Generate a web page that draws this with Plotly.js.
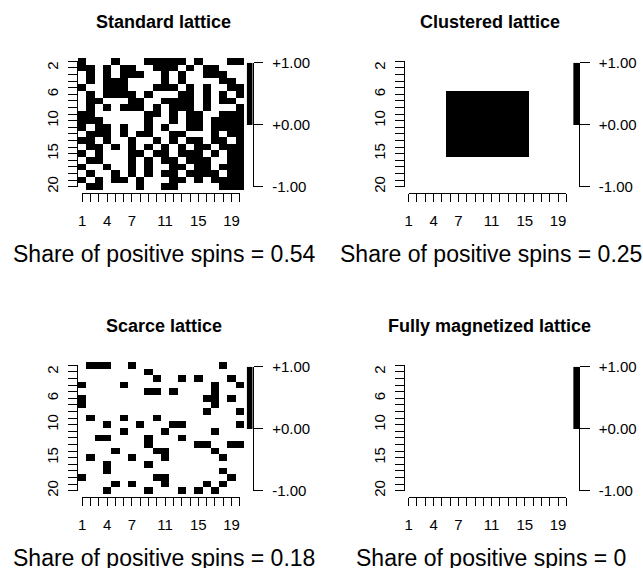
<!DOCTYPE html>
<html>
<head>
<meta charset="utf-8">
<script src="https://cdn.plot.ly/plotly-3.0.1.min.js"></script>
<style>
  html, body { margin: 0; padding: 0; background: #ffffff; }
  #chart { width: 643px; height: 568px; }
</style>
</head>
<body>
<div id="chart"></div>
<script>
// Spin lattices, one string per row (row 1 first); '#' = +1 spin, '.' = -1 spin
const standardLattice = [
  "#...#...#####.#...##",
  "##.#.##..###.#.##...",
  ".#.#.###..#.#..###..",
  ".#.###....#.#....##.",
  "#..###...###.#.#..##",
  ".#.####.#...##.#.#.#",
  ".##...##..####.#.##.",
  ".#.#.###.#.###.#...#",
  "##......##.#.##..###",
  "###.....#..#.##.####",
  "#.##.#..#.#..##.####",
  ".###.#.##..##...#.##",
  "##.#..#..#.#.##.##.#",
  ".##.#.#.#.#.#.##.###",
  "#.#...##.##.###.#.##",
  ".##...#.#.##.###..##",
  "#..#..#.#..##.##.###",
  ".#..#.#.#.##.####.##",
  "#.#.##.#...##.#.####",
  ".##....#..##.....###"
];
const clusteredLattice = [
  "....................",
  "....................",
  "....................",
  "....................",
  "....................",
  ".....##########.....",
  ".....##########.....",
  ".....##########.....",
  ".....##########.....",
  ".....##########.....",
  ".....##########.....",
  ".....##########.....",
  ".....##########.....",
  ".....##########.....",
  ".....##########.....",
  "....................",
  "....................",
  "....................",
  "....................",
  "...................."
];
const scarceLattice = [
  ".###..#..........#..",
  "........#...........",
  ".........#..#.#...#.",
  "#....#..........#..#",
  "........##.#....#...",
  "#..............##.#.",
  "#...............#...",
  "...............#...#",
  ".#...#...#..........",
  "...#...#...##......#",
  ".....#....#.....#...",
  "..##....#...#.......",
  "........#.....##..##",
  "....#....##.....#...",
  ".#....#...#......#..",
  "...#....#...........",
  "...#.............#..",
  "#........##.......#.",
  "....#.#...#....#.#..",
  "...#....#...#.#.#..."
];
const magnetizedLattice = [
  "....................",
  "....................",
  "....................",
  "....................",
  "....................",
  "....................",
  "....................",
  "....................",
  "....................",
  "....................",
  "....................",
  "....................",
  "....................",
  "....................",
  "....................",
  "....................",
  "....................",
  "....................",
  "....................",
  "...................."
];

const panelTitles = ["Standard lattice", "Clustered lattice", "Scarce lattice", "Fully magnetized lattice"];
const panelLattices = [standardLattice, clusteredLattice, scarceLattice, magnetizedLattice];

// axis labelling
const colLabels = [1, 4, 7, 11, 15, 19];
const rowLabels = [2, 6, 10, 15, 20];
const scaleTicks = [-1, 0, 1];
const scaleTickText = ["-1.00", "+0.00", "+1.00"];

// ---- geometry helpers (pixel -> paper fraction) ----
const W = 643, H = 568;
const fx = x => x / W;
const fy = y => 1 - y / H;
const FONT = "Liberation Sans, Arial, sans-serif";
const spinScale = [[0, "#ffffff"], [0.5, "#ffffff"], [0.5, "#000000"], [1, "#000000"]];

const toSpins = rows => rows.map(r => r.split("").map(c => (c === "#" ? 1 : -1)));
const idx = Array.from({length: 20}, (_, i) => i + 1);

const offsets = [[0, 0], [326.5, 0], [0, 304], [326.5, 304]];

const data = [];
const layout = {
  width: W, height: H,
  margin: {l: 0, r: 0, t: 0, b: 0},
  paper_bgcolor: "#ffffff", plot_bgcolor: "rgba(0,0,0,0)",
  showlegend: false,
  font: {family: FONT, color: "#000000"},
  annotations: []
};

panelLattices.forEach((lat, p) => {
  const [ox, oy] = offsets[p];
  const spins = toSpins(lat);
  const nA = 3 * p + 1, nB = 3 * p + 2, nC = 3 * p + 3;
  const ax = n => (n === 1 ? "" : String(n));

  // lattice cells
  data.push({
    type: "heatmap", z: spins, x: idx, y: idx,
    zmin: -1, zmax: 1, colorscale: spinScale, showscale: false,
    hoverinfo: "skip", xaxis: "x" + ax(nA), yaxis: "y" + ax(nA)
  });
  layout["xaxis" + ax(nA)] = {domain: [fx(78 + ox), fx(244 + ox)], range: [0.5, 20.5],
    visible: false, fixedrange: true, anchor: "y" + ax(nA)};
  layout["yaxis" + ax(nA)] = {domain: [fy(190 + oy), fy(58 + oy)], range: [20.5, 0.5],
    visible: false, fixedrange: true, anchor: "x" + ax(nA)};

  // row / column axes drawn from first to last tick
  data.push({type: "scatter", x: [], y: [], mode: "markers", hoverinfo: "skip",
    xaxis: "x" + nB, yaxis: "y" + nB});
  layout["xaxis" + nB] = {
    domain: [fx(82.15 + ox), fx(239.85 + ox)], range: [1, 20],
    anchor: "free", position: fy(192.5 + oy),
    showline: true, linecolor: "#000", linewidth: 1,
    ticks: "outside", ticklen: 8, tickwidth: 1, tickcolor: "#000",
    tickmode: "array", tickvals: idx, ticktext: idx.map(v => colLabels.includes(v) ? String(v) : ""),
    ticklabelstandoff: 6,
    tickfont: {family: FONT, size: 15, color: "#000"},
    showgrid: false, zeroline: false, fixedrange: true
  };
  layout["yaxis" + nB] = {
    domain: [fy(186.7 + oy), fy(61.3 + oy)], range: [20, 1],
    anchor: "free", position: fx(77 + ox),
    showline: true, linecolor: "#000", linewidth: 1,
    ticks: "outside", ticklen: 9, tickwidth: 1, tickcolor: "#000",
    tickmode: "array", tickvals: idx, ticktext: idx.map(v => rowLabels.includes(v) ? String(v) : ""),
    tickangle: -90, ticklabelstandoff: 4,
    tickfont: {family: FONT, size: 15, color: "#000"},
    showgrid: false, zeroline: false, fixedrange: true
  };

  // spin scale key
  data.push({
    type: "heatmap", z: [[-1], [1]], x: [0], y: [-0.5, 0.5],
    zmin: -1, zmax: 1, colorscale: spinScale, showscale: false,
    hoverinfo: "skip", xaxis: "x" + nC, yaxis: "y" + nC
  });
  layout["xaxis" + nC] = {domain: [fx(246.7 + ox), fx(252.7 + ox)], range: [-0.5, 0.5],
    visible: false, fixedrange: true, anchor: "y" + nC};
  layout["yaxis" + nC] = {
    domain: [fy(186.7 + oy), fy(62.7 + oy)], range: [-1, 1],
    anchor: "x" + nC, side: "right",
    showline: true, linecolor: "#000", linewidth: 1,
    ticks: "outside", ticklen: 9.5, tickwidth: 1, tickcolor: "#000",
    tickmode: "array", tickvals: scaleTicks, ticktext: scaleTickText,
    ticklabelstandoff: 6,
    tickfont: {family: FONT, size: 15, color: "#000"},
    showgrid: false, zeroline: false, fixedrange: true
  };

  // share of positive spins
  const flat = spins.flat();
  const share = Math.round(flat.filter(s => s > 0).length / flat.length * 100) / 100;

  layout.annotations.push({
    text: "<b>" + panelTitles[p] + "</b>", xref: "paper", yref: "paper",
    x: fx(163.5 + ox), y: fy(22 + oy), xanchor: "center", yanchor: "middle",
    showarrow: false, font: {family: FONT, size: 18, color: "#000"}
  });
  layout.annotations.push({
    text: "Share of positive spins = " + String(share), xref: "paper", yref: "paper",
    x: fx(164 + ox), y: fy(254 + oy), xanchor: "center", yanchor: "middle",
    showarrow: false, font: {family: FONT, size: 23, color: "#000"}
  });
});

Plotly.newPlot("chart", data, layout, {staticPlot: true, displayModeBar: false});
</script>
</body>
</html>
